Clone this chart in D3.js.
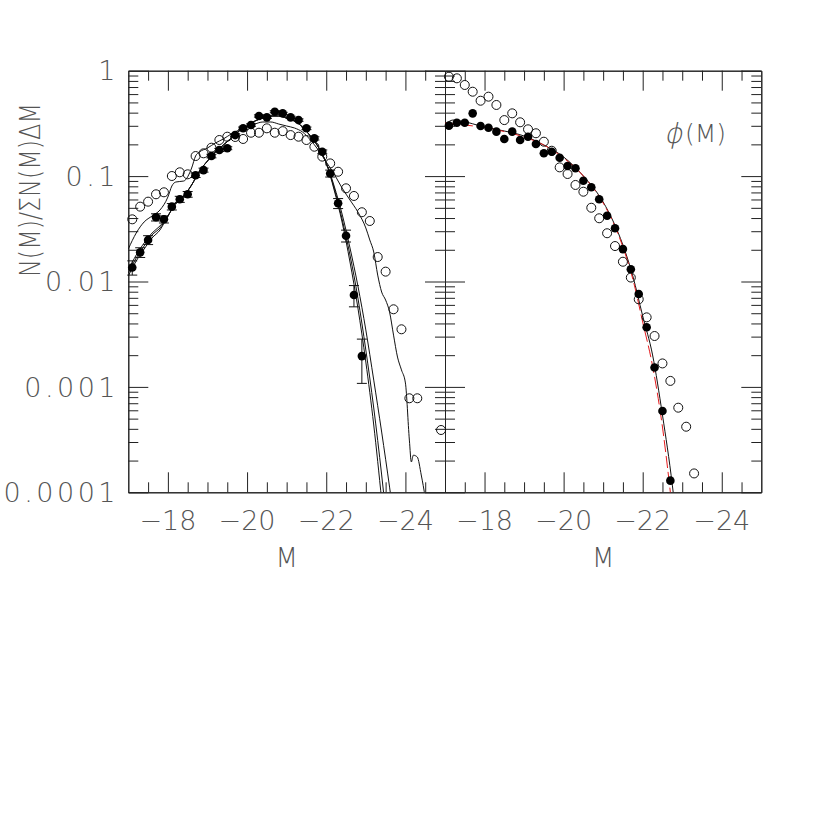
<!DOCTYPE html>
<html>
<head>
<meta charset="utf-8">
<script src="https://cdn.jsdelivr.net/npm/d3@7"></script>
<style>
body { margin: 0; background: #fff; }
.lab { font-family: "DejaVu Sans", sans-serif; font-weight: 200; fill: #555; }
</style>
</head>
<body>
<div id="chart"></div>
<script>
// ---- data ----
// left panel: observed counts (filled, with errors) and second sample (open)
var leftFilledM = [-17.1,-17.3,-17.5,-17.7,-17.9,-18.1,-18.3,-18.5,-18.7,-18.9,-19.1,-19.3,-19.5,-19.7,-19.9,
                   -20.1,-20.3,-20.5,-20.7,-20.9,-21.1,-21.3,-21.5,-21.7,-21.9,-22.1,-22.3,-22.5,-22.7,-22.9];
var leftFilled = [0.0136,0.0189,0.0248,0.0407,0.0389,0.0513,0.0603,0.0672,0.102,0.114,0.155,0.177,0.184,0.245,0.284,
                  0.305,0.372,0.361,0.408,0.394,0.361,0.340,0.284,0.228,0.170,0.106,0.0552,0.0272,0.00745,0.00196];
var leftErr = [0.0021,0.0020,0.0024,0.0032,0.0030,0.0036,0.0040,0.0042,0.005,0.005,0.006,0.006,0.006,0.007,0.008,
               0.008,0.009,0.009,0.009,0.009,0.009,0.009,0.008,0.008,0.007,0.008,0.006,0.0035,0.0017,0.00088];

var leftOpenM = [-17.1,-17.3,-17.5,-17.7,-17.9,-18.1,-18.3,-18.5,-18.7,-18.9,-19.1,-19.3,-19.5,-19.7,-19.9,
                 -20.1,-20.3,-20.5,-20.7,-20.9,-21.1,-21.3,-21.5,-21.7,-21.9,-22.1,-22.3,-22.5,-22.7,-22.9,
                 -23.1,-23.3,-23.5,-23.7,-23.9,-24.1,-24.3,-24.9];
var leftOpen = [0.0389,0.0513,0.0572,0.0672,0.0702,0.1002,0.1087,0.104,0.155,0.1645,0.186,0.220,0.2365,0.235,0.225,
                0.258,0.258,0.284,0.258,0.267,0.245,0.2365,0.220,0.190,0.153,0.132,0.110,0.0766,0.0648,0.0454,
                0.0375,0.01707,0.0124,0.00545,0.00352,0.00078,0.00078,0.00039];

// left panel model curves (three close ones + one shifted)
var modelM = [-17.0,-17.2,-17.4,-17.6,-17.8,-18.0,-18.2,-18.4,-18.6,-18.8,-19.0,-19.2,-19.4,-19.6,-19.8,-20.0,
              -20.2,-20.4,-20.6,-20.8,-21.0,-21.2,-21.4,-21.6,-21.8,-22.0,-22.2,-22.4,-22.6,-22.8,-23.0,-23.2,-23.4,-23.6,-23.8];
var modelA = [0.01285,0.01783,0.02317,0.02884,0.03363,0.04181,0.05555,0.06471,0.0824,0.1117,0.139,0.1694,0.1972,0.2297,0.268,0.2987,
              0.3333,0.3559,0.3717,0.3717,0.3559,0.3333,0.2922,0.2401,0.1888,0.1332,0.0738,0.03667,0.01531,0.00561,0.00172,0.000435,0.0000845];
var modelB = [0.01205,0.01671,0.02173,0.02761,0.03221,0.04181,0.05555,0.06471,0.0824,0.1117,0.139,0.1694,0.1972,0.2297,0.268,0.2987,
              0.3333,0.3559,0.3717,0.3717,0.3559,0.3333,0.2922,0.2401,0.1888,0.1332,0.0771,0.0392,0.01783,0.00697,0.00224,0.000631,0.000146,0.0000284];
var modelC = [0.01127,0.01565,0.02033,0.02587,0.03081,0.04181,0.05555,0.06471,0.0824,0.1117,0.139,0.1694,0.1972,0.2297,0.268,0.2987,
              0.3333,0.3559,0.3717,0.3717,0.3559,0.3333,0.2922,0.2401,0.1888,0.1332,0.0805,0.04365,0.0208,0.00906,0.00347,0.00116,0.000373,0.000112,0.0000316];

var shiftM = [-17.0,-17.2,-17.4,-17.6,-17.8,-18.0,-18.1,-18.2,-18.4,-18.6,-18.7,-18.8,-19.0,-19.2,-19.4,-19.6,-19.8,-20.0,
              -20.2,-20.4,-20.6,-20.8,-21.0,-21.2,-21.4,-21.6,-21.8,-22.0,-22.2,-22.4,-22.6,-22.8,-23.0,-23.1,-23.2,-23.3,
              -23.4,-23.5,-23.6,-23.7,-23.8,-23.9,-24.0,-24.1,-24.15,-24.2,-24.3,-24.4,-24.5];
var shiftV = [0.02033,0.02884,0.03672,0.04181,0.04766,0.06334,0.0805,0.0879,0.0898,0.1193,0.1552,0.1694,0.1848,0.2061,0.2249,0.251,0.2737,0.2922,
              0.312,0.3261,0.3261,0.312,0.2987,0.2858,0.262,0.2202,0.1769,0.1361,0.1047,0.0771,0.0593,0.0456,0.03221,0.02477,0.01905,0.01151,
              0.00794,0.00667,0.00513,0.0031,0.00192,0.00145,0.00109,0.000313,0.000194,0.000225,0.000216,0.000146,0.0000901];

// right panel: phi(M)
var rightFilledM = [-17.1,-17.3,-17.5,-17.7,-17.9,-18.1,-18.3,-18.5,-18.7,-18.9,-19.1,-19.3,-19.5,-19.7,-19.9,
                    -20.1,-20.3,-20.5,-20.7,-20.9,-21.1,-21.3,-21.5,-21.7,-21.9,-22.1,-22.3,-22.5,-22.7];
var rightFilled = [0.301,0.321,0.321,0.394,0.299,0.288,0.264,0.225,0.264,0.220,0.2365,0.2016,0.1645,0.1705,0.1495,
                   0.1247,0.1186,0.0904,0.0783,0.0603,0.0421,0.032,0.0203,0.01305,0.0076,0.00368,0.00153,0.00059,0.000129];
var rightOpenM = [-17.1,-17.3,-17.5,-17.7,-17.9,-18.1,-18.3,-18.5,-18.7,-18.9,-19.1,-19.3,-19.5,-19.7,-19.9,
                  -20.1,-20.3,-20.5,-20.7,-20.9,-21.1,-21.3,-21.5,-21.7,-21.9,-22.1,-22.3,-22.5,-22.7,-22.9,-23.1,-23.3];
var rightOpen = [0.877,0.847,0.732,0.632,0.519,0.567,0.473,0.340,0.394,0.324,0.278,0.255,0.212,0.174,0.121,
                 0.1047,0.0824,0.0711,0.0501,0.0398,0.0287,0.0217,0.0154,0.0109,0.00678,0.00457,0.00304,0.00167,0.00114,0.000635,0.000419,0.000151];

var fitM = [-17.0,-17.5,-18.0,-18.5,-19.0,-19.5,-20.0,-20.5,-21.0,-21.25,-21.5,-21.75,-22.0,-22.25,-22.5,-22.75];
var fitRed = [0.319,0.3053,0.2891,0.265,0.2349,0.1972,0.1485,0.1002,0.05555,0.03672,0.02124,0.01056,0.00413,0.00158,0.000416,0.0000679];
var fitBlackM = [-17.0,-17.2,-17.4,-18.0,-18.5,-19.0,-19.5,-20.0,-20.5,-21.0,-21.25,-21.5,-21.75,-22.0,-22.25,-22.5,-22.75,-22.85];
var fitBlack = [0.3053,0.3404,0.3333,0.2922,0.268,0.2401,0.1972,0.1518,0.1002,0.05677,0.03751,0.02219,0.01127,0.00471,0.00201,0.000541,0.000117,0.0000546];

// axes
var xTickVals = [-18,-20,-22,-24];
var xTickLabels = ["\u221218","\u221220","\u221222","\u221224"];
var yTickVals = [1,0.1,0.01,0.001,0.0001];
var yTickLabels = ["1","0.1","0.01","0.001","0.0001"];

// ---- layout ----
var frame = {top: 70.7, bottom: 492.3, left: 128.3, mid: 445, right: 761.3};

var svg = d3.select("#chart")
    .append("svg")
    .attr("width", 830)
    .attr("height", 830);

var y = d3.scaleLog().domain([1e-4, 1]).range([frame.bottom, frame.top]);
var xL = d3.scaleLinear().domain([-17, -25]).range([frame.left, frame.mid]);
var xR = d3.scaleLinear().domain([-17, -25]).range([frame.mid, frame.right]);

var xMinor = d3.range(-17.5, -25, -0.5).filter(function(v) { return xTickVals.indexOf(v) < 0; });
var yMinor = [];
[1e-4, 1e-3, 1e-2, 1e-1].forEach(function(d) {
  for (var k = 2; k < 10; k++) yMinor.push(k * d);
});

function drawFrame(x) {
  var x0 = x.range()[0], x1 = x.range()[1];
  var g = svg.append("g").attr("color", "#222");
  g.append("g").attr("transform", "translate(0," + frame.bottom + ")")
    .call(d3.axisBottom(x).tickValues(xMinor).tickSize(-10).tickSizeOuter(0).tickFormat(""));
  g.append("g").attr("transform", "translate(0," + frame.bottom + ")")
    .call(d3.axisBottom(x).tickValues(xTickVals).tickSize(-20).tickSizeOuter(0).tickFormat(""));
  g.append("g").attr("transform", "translate(0," + frame.top + ")")
    .call(d3.axisTop(x).tickValues(xMinor).tickSize(-10).tickSizeOuter(0).tickFormat(""));
  g.append("g").attr("transform", "translate(0," + frame.top + ")")
    .call(d3.axisTop(x).tickValues(xTickVals).tickSize(-20).tickSizeOuter(0).tickFormat(""));
  g.append("g").attr("transform", "translate(" + x0 + ",0)")
    .call(d3.axisLeft(y).tickValues(yMinor).tickSize(-10).tickSizeOuter(0).tickFormat(""));
  g.append("g").attr("transform", "translate(" + x0 + ",0)")
    .call(d3.axisLeft(y).tickValues(yTickVals).tickSize(-20).tickSizeOuter(0).tickFormat(""));
  g.append("g").attr("transform", "translate(" + x1 + ",0)")
    .call(d3.axisRight(y).tickValues(yMinor).tickSize(-10).tickSizeOuter(0).tickFormat(""));
  g.append("g").attr("transform", "translate(" + x1 + ",0)")
    .call(d3.axisRight(y).tickValues(yTickVals).tickSize(-20).tickSizeOuter(0).tickFormat(""));

  svg.selectAll(null).data(xTickVals).enter().append("text")
    .attr("class", "lab")
    .attr("x", function(d) { return x(d); })
    .attr("y", 530)
    .attr("text-anchor", "middle")
    .style("font-size", "27px")
    .text(function(d, i) { return xTickLabels[i]; });

  svg.append("text")
    .attr("class", "lab")
    .attr("x", (x0 + x1) / 2)
    .attr("y", 567)
    .attr("text-anchor", "middle")
    .style("font-size", "26px")
    .text("M");

  svg.append("clipPath").attr("id", "clip" + Math.round(x0))
    .append("rect")
    .attr("x", x0).attr("y", frame.top)
    .attr("width", x1 - x0).attr("height", frame.bottom - frame.top);
}

drawFrame(xL);
drawFrame(xR);

// y tick labels
svg.selectAll(null).data(yTickVals).enter().append("text")
  .attr("class", "lab")
  .attr("x", 119)
  .attr("y", function(d) { return y(d); })
  .attr("dy", "0.36em")
  .attr("text-anchor", "end")
  .style("font-size", "27px")
  .style("letter-spacing", "3.5px")
  .text(function(d, i) { return yTickLabels[i]; });

svg.append("text")
  .attr("class", "lab")
  .attr("transform", "translate(40,190) rotate(-90)")
  .attr("text-anchor", "middle")
  .attr("textLength", 174)
  .attr("lengthAdjust", "spacingAndGlyphs")
  .style("font-size", "29px")
  .text("N(M)/\u03A3N(M)\u0394M");

svg.append("text")
  .attr("class", "lab")
  .attr("transform", "translate(664,143) skewX(-12)")
  .style("font-size", "28px")
  .text("\u03D5");
svg.append("text")
  .attr("class", "lab")
  .attr("x", 685)
  .attr("y", 142)
  .style("font-size", "25px")
  .text("(M)");

// ---- left panel marks ----
function pairs(ms, vs) { return ms.map(function(m, i) { return [m, vs[i]]; }).filter(function(d) { return d[1] !== undefined; }); }

var lineL = d3.line().curve(d3.curveMonotoneX)
  .x(function(d) { return xL(d[0]); })
  .y(function(d) { return y(d[1]); });
var lineR = d3.line().curve(d3.curveMonotoneX)
  .x(function(d) { return xR(d[0]); })
  .y(function(d) { return y(d[1]); });

var gL = svg.append("g").attr("clip-path", "url(#clip128)");
[modelA, modelB, modelC].forEach(function(vs) {
  gL.append("path").datum(pairs(modelM, vs))
    .attr("d", lineL).attr("fill", "none").attr("stroke", "#111").attr("stroke-width", 1);
});
gL.append("path").datum(pairs(shiftM, shiftV))
  .attr("d", lineL).attr("fill", "none").attr("stroke", "#111").attr("stroke-width", 1);

svg.selectAll(null).data(pairs(leftOpenM, leftOpen)).enter().append("circle")
  .attr("cx", function(d) { return xL(d[0]); })
  .attr("cy", function(d) { return y(d[1]); })
  .attr("r", 4.5)
  .attr("fill", "none").attr("stroke", "#111").attr("stroke-width", 1);

var errs = svg.selectAll(null).data(leftFilledM).enter().append("g");
errs.append("line")
  .attr("x1", function(d) { return xL(d); }).attr("x2", function(d) { return xL(d); })
  .attr("y1", function(d, i) { return y(leftFilled[i] + leftErr[i]); })
  .attr("y2", function(d, i) { return y(leftFilled[i] - leftErr[i]); })
  .attr("stroke", "#111");
[1, -1].forEach(function(s) {
  errs.append("line")
    .attr("x1", function(d) { return xL(d) - 5; }).attr("x2", function(d) { return xL(d) + 5; })
    .attr("y1", function(d, i) { return y(leftFilled[i] + s * leftErr[i]); })
    .attr("y2", function(d, i) { return y(leftFilled[i] + s * leftErr[i]); })
    .attr("stroke", "#111");
});

svg.selectAll(null).data(pairs(leftFilledM, leftFilled)).enter().append("circle")
  .attr("cx", function(d) { return xL(d[0]); })
  .attr("cy", function(d) { return y(d[1]); })
  .attr("r", 4.3)
  .attr("fill", "#000");

// ---- right panel marks ----
var gR = svg.append("g").attr("clip-path", "url(#clip445)");
gR.append("path").datum(pairs(fitBlackM, fitBlack))
  .attr("d", lineR).attr("fill", "none").attr("stroke", "#111").attr("stroke-width", 1);
gR.append("path").datum(pairs(fitM, fitRed))
  .attr("d", lineR).attr("fill", "none").attr("stroke", "#e41a1c").attr("stroke-width", 1)
  .attr("stroke-dasharray", "12,4");

svg.selectAll(null).data(pairs(rightOpenM, rightOpen)).enter().append("circle")
  .attr("cx", function(d) { return xR(d[0]); })
  .attr("cy", function(d) { return y(d[1]); })
  .attr("r", 4.5)
  .attr("fill", "none").attr("stroke", "#111").attr("stroke-width", 1);

svg.selectAll(null).data(pairs(rightFilledM, rightFilled)).enter().append("circle")
  .attr("cx", function(d) { return xR(d[0]); })
  .attr("cy", function(d) { return y(d[1]); })
  .attr("r", 4.3)
  .attr("fill", "#000");
</script>
</body>
</html>
